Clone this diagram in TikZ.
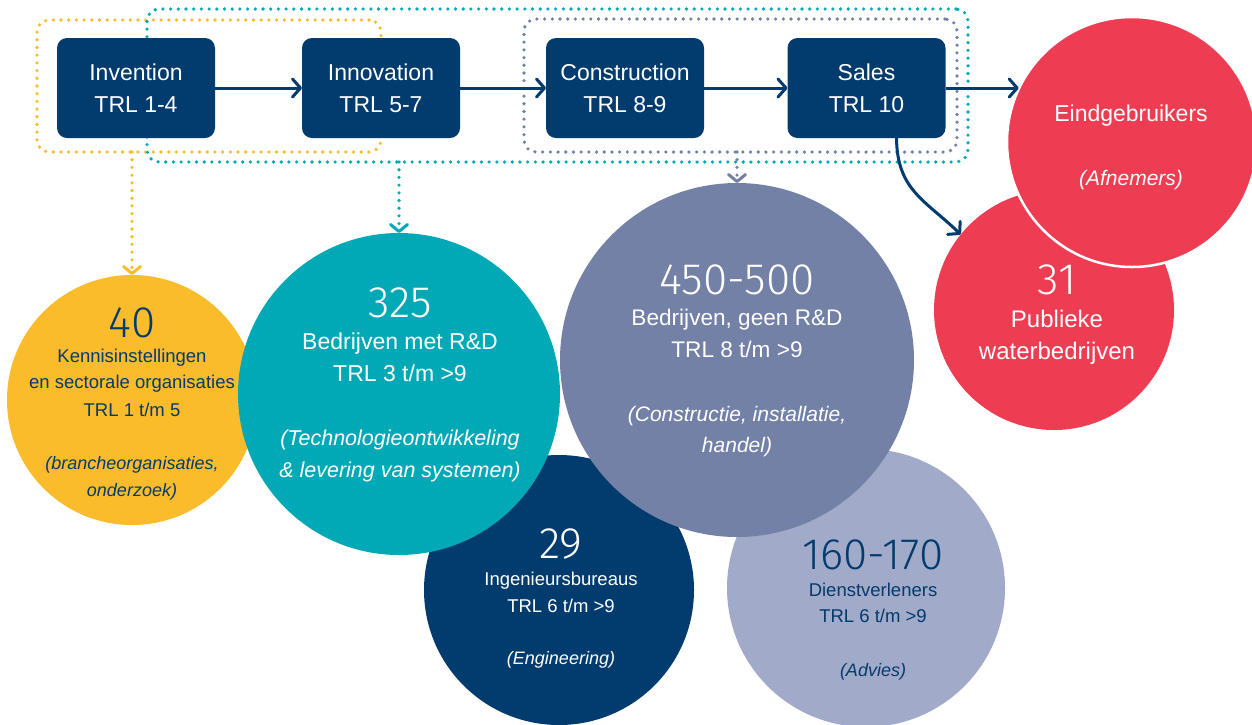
\documentclass[tikz,border=0pt]{standalone}
\usepackage{fontspec}
\setmainfont{Liberation Sans}
\newfontfamily\lightnum{Fira Sans}[UprightFont={* Light}]
\usetikzlibrary{arrows.meta}

\definecolor{navy}{HTML}{023B6D}
\definecolor{amber}{HTML}{FBBC2C}
\definecolor{teal}{HTML}{00A9B5}
\definecolor{slate}{HTML}{7381A6}
\definecolor{mist}{HTML}{A1AAC8}
\definecolor{coral}{HTML}{EE3D52}

\newcommand{\fs}[1]{\fontsize{#1}{#1}\selectfont}

\begin{document}
\begin{tikzpicture}[x=1pt,y=-1pt,
  stage/.style={rectangle, rounded corners=10pt, fill=navy, text=white,
    minimum width=158pt, minimum height=100pt, inner sep=0pt, outer sep=0pt,
    align=center, font=\fontsize{23}{32}\selectfont},
  blob/.style={circle, inner sep=0pt, outer sep=0pt, minimum size=#1},
  dots/.style={line width=3.6pt, line cap=round, dash pattern=on 0pt off 7.7pt},
  grp/.style={rectangle, rounded corners=12pt, dots, inner sep=0pt, outer sep=0pt},
  flow/.style={draw=navy, line width=3pt,
    -{Straight Barb[length=8pt,width=18pt,line width=3pt,round]}},
  drop/.style={dots, shorten >=4pt},
  droptip/.style={line width=3pt,
    -{Straight Barb[length=7pt,width=17pt,line width=3pt,round]}},
  tl/.style={anchor=base, inner sep=0pt, outer sep=0pt},
  num/.style={tl, font=\lightnum\fs{44}},
]
\useasboundingbox (0,0) rectangle (1252,724);

% dotted groupings behind the stages
\node[grp, draw=amber, minimum width=344pt, minimum height=132pt] (ygrp) at (209,86) {};
\node[grp, draw=teal,  minimum width=821pt, minimum height=153pt] (tgrp) at (557.5,85.5) {};
\node[grp, draw=slate, minimum width=433pt, minimum height=133pt] (sgrp) at (740.5,85.5) {};

% circles, back to front
\node[blob=250pt, fill=amber] (yc) at (132,400) {};
\node[blob=270pt, fill=navy]  (nc) at (559,590) {};
\node[blob=278pt, fill=mist]  (mc) at (866,588) {};
\node[blob=322pt, fill=teal]  (tc) at (399,394) {};
\node[blob=354pt, fill=slate] (sc) at (737,360) {};
\node[blob=240pt, fill=coral] (rc) at (1054,310) {};
\node[blob=250pt, fill=coral, draw=white, line width=2.5pt] (ec) at (1132,142) {};

% stages
\node[stage] (inv) at (136,88)   {Invention\\TRL 1-4};
\node[stage] (inn) at (381,88)   {Innovation\\TRL 5-7};
\node[stage] (con) at (625,88)   {Construction\\TRL 8-9};
\node[stage] (sal) at (866.5,88) {Sales\\TRL 10};

% flow between stages
\draw[flow] (inv.east) -- (inn.west);
\draw[flow] (inn.east) -- (con.west);
\draw[flow] (con.east) -- (sal.west);
\draw[flow] (sal.east) -- (sal.east -| ec.155);
\draw[flow] ([xshift=30pt]sal.south) .. controls (897,190) and (925,200) .. (rc.141);

% groupings pointing to their circles (dotted shaft, solid chevron)
\draw[drop, draw=amber] (ygrp.south -| yc.center) -- (yc.north);
\draw[droptip, draw=amber] ([yshift=2pt]yc.north) -- (yc.north);
\draw[drop, draw=teal]  (tgrp.south -| tc.center) -- (tc.north);
\draw[droptip, draw=teal] ([yshift=2pt]tc.north) -- (tc.north);
\draw[drop, draw=slate] (sgrp.south -| sc.center) -- (sc.north);
\draw[droptip, draw=slate] ([yshift=2pt]sc.north) -- (sc.north);

% knowledge institutes
\begin{scope}[text=navy]
\node[num] (yc-n) at (132,337) {40};
\node[tl, font=\fs{18.5}] (yc-a) at (132,362) {Kennisinstellingen};
\node[tl, font=\fs{18.5}] (yc-b) at (132,388) {en sectorale organisaties};
\node[tl, font=\fs{18.5}] (yc-c) at (132,416) {TRL 1 t/m 5};
\node[tl, font=\fs{18}\itshape] (yc-d) at (132,469) {(brancheorganisaties,};
\node[tl, font=\fs{18}\itshape] (yc-e) at (132,496) {onderzoek)};
\end{scope}

% companies with R&D
\begin{scope}[text=white]
\node[num] (tc-n) at (400,317) {325};
\node[tl, font=\fs{23}] (tc-a) at (400,349) {Bedrijven met R\&D};
\node[tl, font=\fs{23}] (tc-b) at (400,381) {TRL 3 t/m >9};
\node[tl, font=\fs{21.5}\itshape] (tc-c) at (400,445) {(Technologieontwikkeling};
\node[tl, font=\fs{21.5}\itshape] (tc-d) at (400,477) {\& levering van systemen)};
\end{scope}

% companies without R&D
\begin{scope}[text=white]
\node[num] (sc-n) at (737,294) {450-500};
\node[tl, font=\fs{22.6}] (sc-a) at (737,325) {Bedrijven, geen R\&D};
\node[tl, font=\fs{22.6}] (sc-b) at (737,357) {TRL 8 t/m >9};
\node[tl, font=\fs{21}\itshape] (sc-c) at (737,421) {(Constructie, installatie,};
\node[tl, font=\fs{21}\itshape] (sc-d) at (737,452) {handel)};
\end{scope}

% public water companies
\begin{scope}[text=white]
\node[num] (rc-n) at (1057,294) {31};
\node[tl, font=\fs{24}] (rc-a) at (1057,327) {Publieke};
\node[tl, font=\fs{24}] (rc-b) at (1057,359) {waterbedrijven};
\end{scope}

% engineering firms
\begin{scope}[text=white]
\node[num] (nc-n) at (561,558) {29};
\node[tl, font=\fs{18.5}] (nc-a) at (561,585) {Ingenieursbureaus};
\node[tl, font=\fs{18.5}] (nc-b) at (561,612) {TRL 6 t/m >9};
\node[tl, font=\fs{18}\itshape] (nc-c) at (561,664) {(Engineering)};
\end{scope}

% service providers
\begin{scope}[text=navy]
\node[num] (mc-n) at (873,569) {160-170};
\node[tl, font=\fs{18.5}] (mc-a) at (873,596) {Dienstverleners};
\node[tl, font=\fs{18.5}] (mc-b) at (873,622) {TRL 6 t/m >9};
\node[tl, font=\fs{18}\itshape] (mc-c) at (873,676) {(Advies)};
\end{scope}

% end users
\begin{scope}[text=white]
\node[tl, font=\fs{23}] (ec-a) at (1131,121) {Eindgebruikers};
\node[tl, font=\fs{21}\itshape] (ec-b) at (1131,185) {(Afnemers)};
\end{scope}
\end{tikzpicture}
\end{document}
